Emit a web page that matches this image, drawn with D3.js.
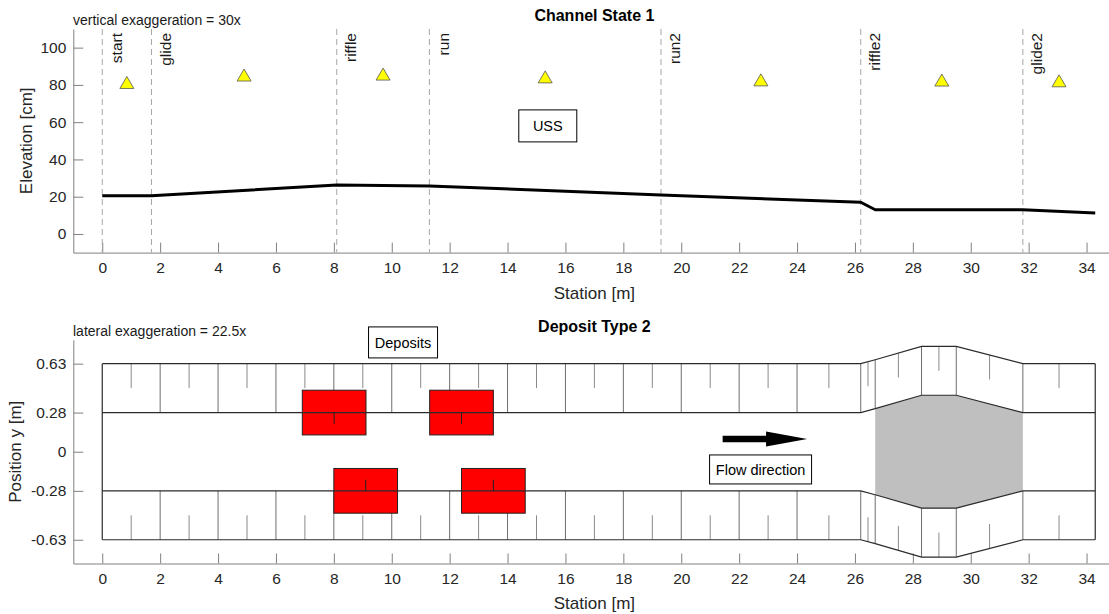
<!DOCTYPE html>
<html><head><meta charset="utf-8">
<script src="https://cdn.jsdelivr.net/npm/d3@7"></script>
<style>
body{margin:0;background:#fff}
svg{display:block}
text{font-family:"Liberation Sans",Arial,Helvetica,sans-serif}
</style>
</head><body>
<svg id="c" width="1109" height="614"></svg>
<script>
// ---------------- data ----------------
const stationTicks = [0,2,4,6,8,10,12,14,16,18,20,22,24,26,28,30,32,34];
const elevTicks = [0,20,40,60,80,100];
const lateralTicks = [-0.63,-0.28,0,0.28,0.63];

// longitudinal profile (Channel State 1)
const profileStation = [0, 1.7, 8.1, 11.3, 19.3, 26.2, 26.7, 31.8, 34.3];
const profileElev    = [20.5, 20.5, 26.3, 25.8, 20.9, 17.0, 13.0, 13.0, 11.3];

// morphological units
const unitNames = ["start","glide","riffle","run","run2","riffle2","glide2"];
const unitStart = [0, 1.7, 8.1, 11.3, 19.3, 26.2, 31.8];
const markerStation = [0.85, 4.9, 9.7, 15.3, 22.75, 29.0, 33.05];
const markerValue   = [81.3, 85.3, 85.8, 84.3, 82.7, 82.6, 82.2];

// plan view (Deposit Type 2)
const sectionStation = [0,2,4,6,8,10,12,14,16,18,20,22,24,26.2,26.7,28.3,29.5,31.8,34.3];
const sectionWiden   = [0,0,0,0,0,0,0,0,0,0,0,0,0,0,0.028,0.124,0.124,0,0];
const bankOuter = 0.63;
const bankInner = 0.28;
const riffleFrom = 26.7, riffleTo = 31.8;

const depositStart = [6.91, 11.31, 8.0, 12.41];
const depositLength = [2.2, 2.2, 2.2, 2.2];
const depositCenterY = [0.28, 0.28, -0.28, -0.28];
const depositHalfWidth = [0.16, 0.16, 0.16, 0.16];

// ---------------- drawing ----------------
const svg = d3.select("#c");
const FONT = '"Liberation Sans", Arial, Helvetica, sans-serif';
const AXC = "#262626";
const AXL = "#808080";

const x1 = d3.scaleLinear().domain([-1,35]).range([73.3,1115.5]);
const y1 = d3.scaleLinear().domain([-10,110]).range([252.6,29]);
const x2 = x1.copy();
const y2 = d3.scaleLinear().domain([-0.8,0.8]).range([563.5,339.9]);

function drawAxes(x, y, yTicks, yFmt) {
  const g = svg.append("g");
  const gx = g.append("g").attr("transform",`translate(0,${y.range()[0]})`)
    .call(d3.axisBottom(x).tickValues(stationTicks).tickSizeInner(-10).tickSizeOuter(0).tickPadding(9).tickFormat(d=>String(d)));
  const gy = g.append("g").attr("transform",`translate(${x.range()[0]},0)`)
    .call(d3.axisLeft(y).tickValues(yTicks).tickSizeInner(-10).tickSizeOuter(0).tickPadding(7).tickFormat(yFmt));
  [gx,gy].forEach(a=>{
    a.attr("font-family",FONT).attr("font-size",15.5);
    a.select(".domain").attr("stroke",AXL).attr("stroke-width",1);
    a.selectAll(".tick line").attr("stroke",AXL).attr("stroke-width",1);
    a.selectAll(".tick text").attr("fill",AXC);
  });
}

function labelBox(g, cx, cy, w, h, txt){
  g.append("rect").attr("x",cx-w/2).attr("y",cy-h/2).attr("width",w).attr("height",h)
    .attr("fill","#fff").attr("stroke","#000").attr("stroke-width",1);
  g.append("text").attr("x",cx).attr("y",cy).attr("dy","0.36em")
    .attr("text-anchor","middle").attr("font-size",14.5).attr("fill","#000").text(txt);
}

// ===== Top plot =====
drawAxes(x1, y1, elevTicks, d=>String(d));

const gTop = svg.append("g");
gTop.selectAll("line.unit").data(unitStart).join("line")
  .attr("x1",d=>x1(d)).attr("x2",d=>x1(d))
  .attr("y1",y1(110)).attr("y2",y1(-10))
  .attr("stroke","#a6a6a6").attr("stroke-width",1).attr("stroke-dasharray","6,4");
gTop.selectAll("text.unit").data(unitStart).join("text")
  .attr("transform",d=>`translate(${x1(d)+19.5},${y1(110)+4}) rotate(-90)`)
  .attr("text-anchor","end").attr("font-size",15.5).attr("fill","#1a1a1a")
  .text((d,i)=>unitNames[i]);

gTop.append("path")
  .datum(profileStation.map((s,i)=>[s,profileElev[i]]))
  .attr("fill","none").attr("stroke","#000").attr("stroke-width",3)
  .attr("stroke-linejoin","round")
  .attr("d", d3.line().x(d=>x1(d[0])).y(d=>y1(d[1])));

gTop.selectAll("path.mk").data(markerStation).join("path")
  .attr("d",(d,i)=>{const cx=x1(d), cy=y1(markerValue[i]);
    return `M${cx},${cy-6}L${cx+7},${cy+6}L${cx-7},${cy+6}Z`;})
  .attr("fill","#ffff00").attr("stroke","#555").attr("stroke-width",0.8);

labelBox(gTop, x1(15.39), y1(58), 58, 32, "USS");

svg.append("text").attr("x",594.4).attr("y",21).attr("text-anchor","middle")
  .attr("font-size",16).attr("font-weight","bold").attr("fill","#000").text("Channel State 1");
svg.append("text").attr("x",73).attr("y",25).attr("font-size",14).attr("fill","#1a1a1a")
  .text("vertical exaggeration = 30x");
svg.append("text").attr("transform",`translate(32,${(y1.range()[0]+y1.range()[1])/2}) rotate(-90)`)
  .attr("text-anchor","middle").attr("font-size",17).attr("fill",AXC).text("Elevation [cm]");
svg.append("text").attr("x",594.4).attr("y",299).attr("text-anchor","middle")
  .attr("font-size",17).attr("fill",AXC).text("Station [m]");

// ===== Bottom plot =====
drawAxes(x2, y2, lateralTicks, d=> d===0 ? "0" : d.toFixed(2));

const gBot = svg.append("g");
const n = sectionStation.length;
const sides = [1,-1];
const outerAt = (i,s)=> s*(bankOuter+sectionWiden[i]);
const innerAt = (i,s)=> s*(bankInner+sectionWiden[i]);

sides.forEach(s=>{
  for(let i=1;i<n-1;i++){
    gBot.append("line").attr("x1",x2(sectionStation[i])).attr("x2",x2(sectionStation[i]))
      .attr("y1",y2(outerAt(i,s))).attr("y2",y2(innerAt(i,s)))
      .attr("stroke","#6e6e6e").attr("stroke-width",1);
  }
  for(let i=0;i<n-1;i++){
    const m=(sectionStation[i]+sectionStation[i+1])/2;
    const o=(outerAt(i,s)+outerAt(i+1,s))/2, inn=(innerAt(i,s)+innerAt(i+1,s))/2;
    gBot.append("line").attr("x1",x2(m)).attr("x2",x2(m))
      .attr("y1",y2(o)).attr("y2",y2((o+inn)/2))
      .attr("stroke","#8a8a8a").attr("stroke-width",1);
  }
});

const ri = sectionStation.map((d,i)=>i).filter(i=>sectionStation[i]>=riffleFrom && sectionStation[i]<=riffleTo);
const grayPts = ri.map(i=>[sectionStation[i], innerAt(i,1)]).concat(ri.slice().reverse().map(i=>[sectionStation[i], innerAt(i,-1)]));
gBot.append("path").attr("d", d3.line().x(d=>x2(d[0])).y(d=>y2(d[1]))(grayPts)+"Z")
  .attr("fill","#bfbfbf").attr("stroke","none");

depositStart.forEach((s,i)=>{
  gBot.append("rect").attr("x",x2(s)).attr("width",x2(s+depositLength[i])-x2(s))
    .attr("y",y2(depositCenterY[i]+depositHalfWidth[i]))
    .attr("height",y2(depositCenterY[i]-depositHalfWidth[i])-y2(depositCenterY[i]+depositHalfWidth[i]))
    .attr("fill","#ff0000").attr("stroke","#222").attr("stroke-width",1);
});

sides.forEach(s=>{
  [outerAt, innerAt].forEach(f=>{
    gBot.append("path").attr("fill","none").attr("stroke","#2b2b2b").attr("stroke-width",1.2)
      .attr("d", d3.line()(sectionStation.map((st,i)=>[x2(st), y2(f(i,s))])));
  });
});
[0,n-1].forEach(i=>{
  gBot.append("line").attr("x1",x2(sectionStation[i])).attr("x2",x2(sectionStation[i]))
    .attr("y1",y2(outerAt(i,1))).attr("y2",y2(outerAt(i,-1)))
    .attr("stroke","#2b2b2b").attr("stroke-width",1.2);
});
depositStart.forEach((s,i)=>{
  const c = s+depositLength[i]/2, cy=depositCenterY[i];
  gBot.append("line").attr("x1",x2(c)).attr("x2",x2(c))
    .attr("y1",y2(cy)).attr("y2",y2(cy - Math.sign(cy)*depositHalfWidth[i]/2))
    .attr("stroke","#222").attr("stroke-width",1);
});

{
  const xa=x2(21.43), xb=x2(22.93), xt=x2(24.35), ya=y2(0.091);
  gBot.append("path")
    .attr("d",`M${xa},${ya-3.3}L${xb},${ya-3.3}L${xb},${ya-7.4}L${xt},${ya}L${xb},${ya+7.4}L${xb},${ya+3.3}L${xa},${ya+3.3}Z`)
    .attr("fill","#000");
}
labelBox(gBot, x2(22.74), y2(-0.127), 102, 29, "Flow direction");
labelBox(gBot, x2(10.39), y2(0.782), 69, 31, "Deposits");

svg.append("text").attr("x",594.4).attr("y",332).attr("text-anchor","middle")
  .attr("font-size",16).attr("font-weight","bold").attr("fill","#000").text("Deposit Type 2");
svg.append("text").attr("x",73).attr("y",336).attr("font-size",14).attr("fill","#1a1a1a")
  .text("lateral exaggeration = 22.5x");
svg.append("text").attr("transform",`translate(21,${(y2.range()[0]+y2.range()[1])/2}) rotate(-90)`)
  .attr("text-anchor","middle").attr("font-size",17).attr("fill",AXC).text("Position y [m]");
svg.append("text").attr("x",594.4).attr("y",609).attr("text-anchor","middle")
  .attr("font-size",17).attr("fill",AXC).text("Station [m]");
</script>
</body></html>
